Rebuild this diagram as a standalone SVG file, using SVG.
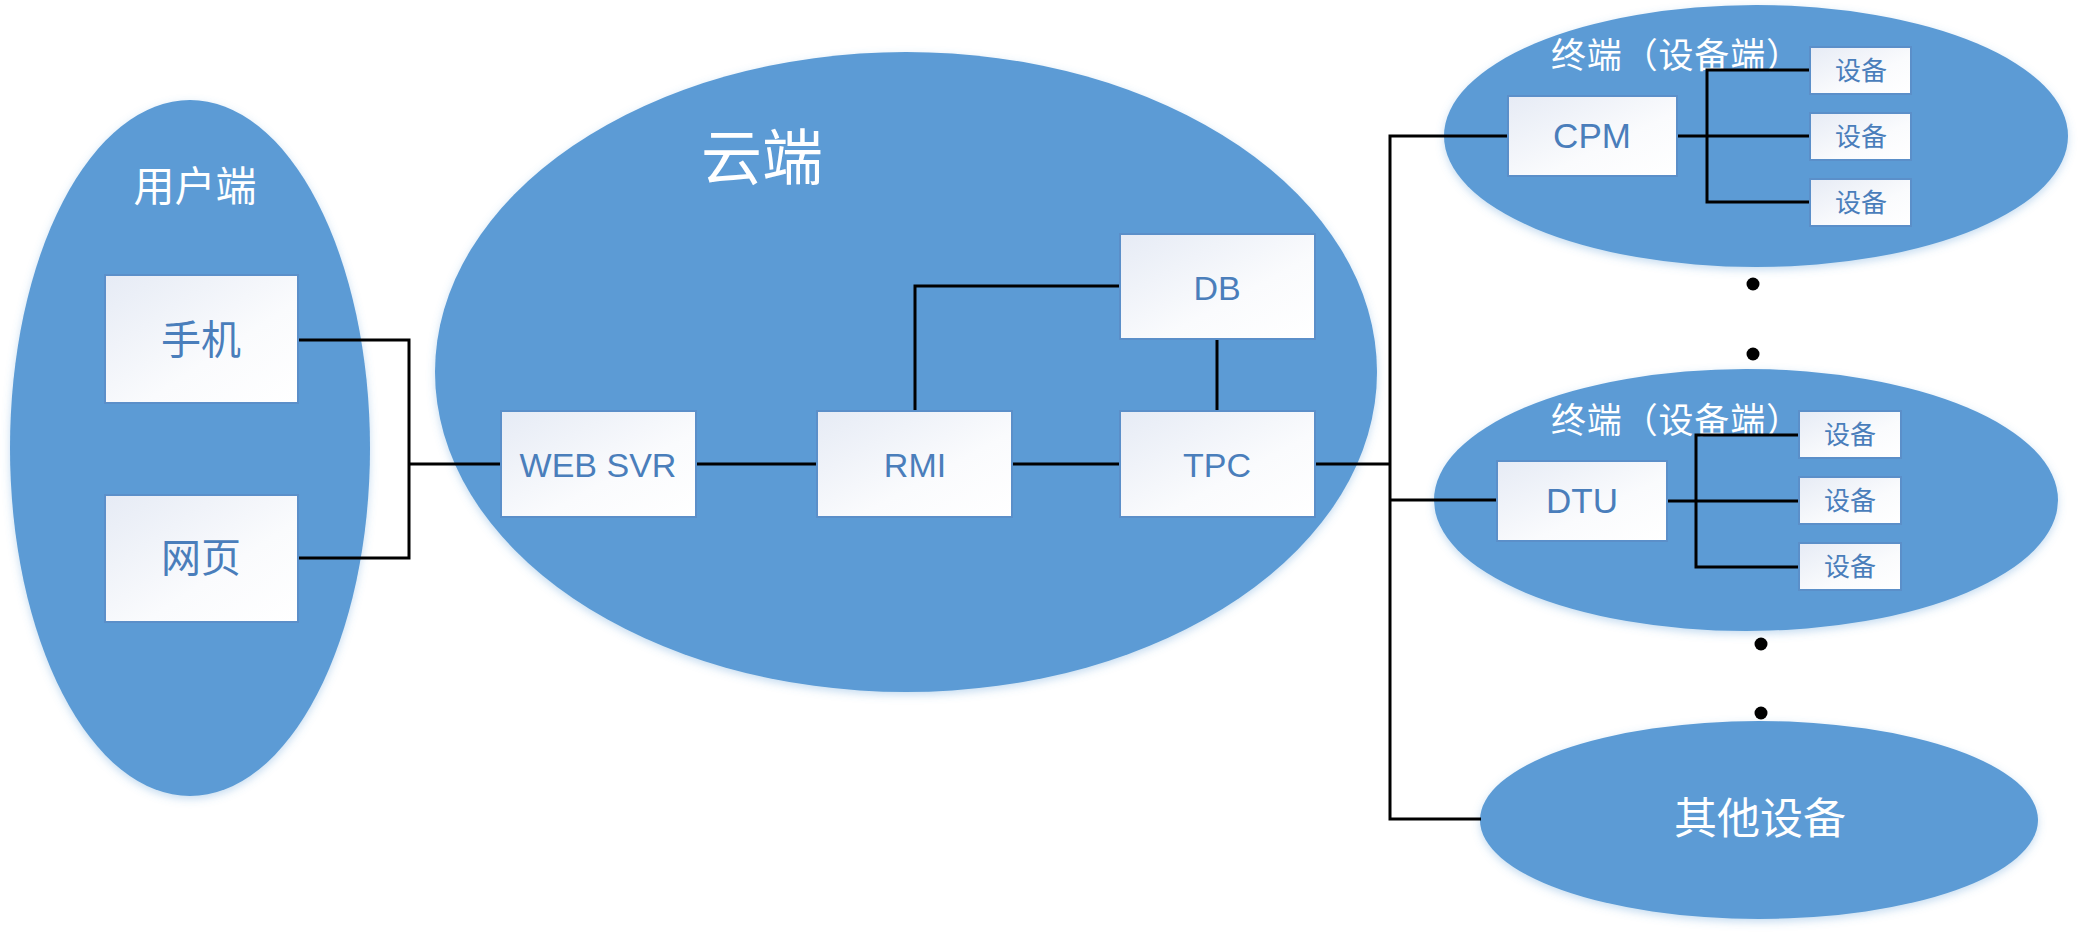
<svg xmlns="http://www.w3.org/2000/svg" width="2078" height="932" viewBox="0 0 2078 932">
<defs>
<linearGradient id="boxg" x1="0" y1="0" x2="1" y2="1">
<stop offset="0" stop-color="#e6ebf5"/>
<stop offset="0.6" stop-color="#fafbfd"/>
<stop offset="1" stop-color="#ffffff"/>
</linearGradient>
<filter id="glow" x="-10%" y="-10%" width="120%" height="120%">
<feDropShadow dx="0" dy="3" stdDeviation="4" flood-color="#5b9bd5" flood-opacity="0.35"/>
</filter>
</defs>
<style>
.ell{fill:#5b9bd5;filter:url(#glow)}
.box{fill:url(#boxg);stroke:#5b8fc9;stroke-width:2}
.t{font-family:"Liberation Sans","Noto Sans CJK SC",sans-serif;fill:#4a7ebb;text-anchor:middle}
.c{font-family:"Noto Sans CJK SC","Liberation Sans",sans-serif;fill:#4a7ebb;text-anchor:middle}
.w{font-family:"Noto Sans CJK SC",sans-serif;fill:#ffffff}
.ln{fill:none;stroke:#000;stroke-width:3}
</style>
<rect width="2078" height="932" fill="#ffffff"/>

<g id="user-group">
<ellipse class="ell" cx="190" cy="448" rx="180" ry="348"/>
<text class="w" x="195" y="201" font-size="41" text-anchor="middle">用户端</text>
</g>
<g id="cloud-group">
<ellipse class="ell" cx="906" cy="372" rx="471" ry="320"/>
<text class="w" x="762" y="180" font-size="61" text-anchor="middle">云端</text>
</g>
<g id="terminal1-group">
<ellipse class="ell" cx="1756" cy="136" rx="312" ry="131"/>
<text class="w" x="1551" y="68" font-size="35" textLength="250" lengthAdjust="spacing">终端（设备端）</text>
</g>
<g id="terminal2-group">
<ellipse class="ell" cx="1746" cy="500" rx="312" ry="131"/>
<text class="w" x="1551" y="433" font-size="35" textLength="250" lengthAdjust="spacing">终端（设备端）</text>
</g>
<g id="other-devices">
<ellipse class="ell" cx="1759" cy="820" rx="279" ry="99"/>
<text class="w" x="1760" y="834" font-size="43" text-anchor="middle">其他设备</text>
</g>

<g id="connectors">
<polyline class="ln" points="298,340 409,340 409,558 298,558"/>
<line class="ln" x1="409" y1="464" x2="501" y2="464"/>
<line class="ln" x1="696" y1="464" x2="817" y2="464"/>
<polyline class="ln" points="915,411 915,286 1120,286"/>
<line class="ln" x1="1217" y1="339" x2="1217" y2="411"/>
<line class="ln" x1="1012" y1="464" x2="1120" y2="464"/>
<line class="ln" x1="1315" y1="464" x2="1390" y2="464"/>
<polyline class="ln" points="1508,136 1390,136 1390,819 1481,819"/>
<line class="ln" x1="1390" y1="500" x2="1497" y2="500"/>
<line class="ln" x1="1677" y1="136" x2="1810" y2="136"/>
<polyline class="ln" points="1810,70 1707,70 1707,202 1810,202"/>
<line class="ln" x1="1667" y1="501" x2="1799" y2="501"/>
<polyline class="ln" points="1799,435 1696,435 1696,567 1799,567"/>
</g>

<g id="dots">
<circle cx="1753" cy="284" r="6.5" fill="#000"/>
<circle cx="1753" cy="354" r="6.5" fill="#000"/>
<circle cx="1761" cy="644" r="6.5" fill="#000"/>
<circle cx="1761" cy="713" r="6.5" fill="#000"/>
</g>

<g id="phone"><rect class="box" x="105" y="275" width="193" height="128"/><text class="c" x="201" y="354" font-size="40">手机</text></g>
<g id="web"><rect class="box" x="105" y="495" width="193" height="127"/><text class="c" x="201" y="572" font-size="40">网页</text></g>
<g id="websvr"><rect class="box" x="501" y="411" width="195" height="106"/><text class="t" x="598" y="477" font-size="34">WEB SVR</text></g>
<g id="rmi"><rect class="box" x="817" y="411" width="195" height="106"/><text class="t" x="915" y="477" font-size="34">RMI</text></g>
<g id="tpc"><rect class="box" x="1120" y="411" width="195" height="106"/><text class="t" x="1217" y="477" font-size="34">TPC</text></g>
<g id="db"><rect class="box" x="1120" y="234" width="195" height="105"/><text class="t" x="1217" y="300" font-size="34">DB</text></g>
<g id="cpm"><rect class="box" x="1508" y="96" width="169" height="80"/><text class="t" x="1592" y="148" font-size="35">CPM</text></g>
<g id="dev1a"><rect class="box" x="1810" y="47" width="101" height="47"/><text class="c" x="1861" y="80" font-size="26">设备</text></g>
<g id="dev1b"><rect class="box" x="1810" y="113" width="101" height="47"/><text class="c" x="1861" y="146" font-size="26">设备</text></g>
<g id="dev1c"><rect class="box" x="1810" y="179" width="101" height="47"/><text class="c" x="1861" y="212" font-size="26">设备</text></g>
<g id="dtu"><rect class="box" x="1497" y="461" width="170" height="80"/><text class="t" x="1582" y="513" font-size="35">DTU</text></g>
<g id="dev2a"><rect class="box" x="1799" y="411" width="102" height="47"/><text class="c" x="1850" y="444" font-size="26">设备</text></g>
<g id="dev2b"><rect class="box" x="1799" y="477" width="102" height="47"/><text class="c" x="1850" y="510" font-size="26">设备</text></g>
<g id="dev2c"><rect class="box" x="1799" y="543" width="102" height="47"/><text class="c" x="1850" y="576" font-size="26">设备</text></g>
</svg>
